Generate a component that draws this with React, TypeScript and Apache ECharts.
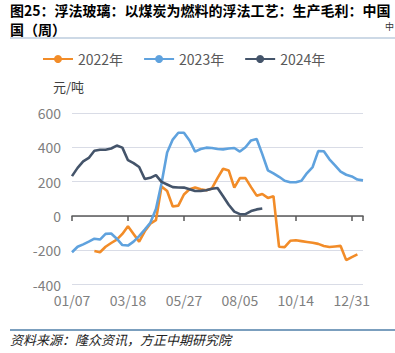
import React, { useEffect, useRef } from "react";
import * as echarts from "echarts";

const categories = [
  "01/07","01/14","01/21","01/28","02/04","02/11","02/18","02/25","03/04","03/11",
  "03/18","03/25","04/01","04/08","04/15","04/22","04/29","05/06","05/13","05/20",
  "05/27","06/03","06/10","06/17","06/24","07/01","07/08","07/15","07/22","07/29",
  "08/05","08/12","08/19","08/26","09/02","09/09","09/16","09/23","09/30","10/07",
  "10/14","10/21","10/28","11/04","11/11","11/18","11/25","12/02","12/09","12/16",
  "12/31","01/07","01/14",
];

const s2022 = [
  null, null, null, null, -205, -212, -180, -158, -138, -105,
  -60, -105, -150, -90, -45, -25, 172, 145, 55, 60,
  125, 155, 165, 155, 150, 160, 220, 275, 265, 165,
  220, 220, 168, 118, 128, 105, 115, -180, -182, -145,
  -142, -147, -152, -157, -163, -175, -181, -178, -175, -258,
  -240, -224, null,
];

const s2023 = [
  -212, -180, -166, -150, -133, -138, -105, -103, -133, -170,
  -173, -150, -118, -80, -40, 40, 190, 370, 445, 485,
  485, 440, 375, 390, 398, 396, 390, 388, 393, 396,
  375, 400, 440, 448, 360, 266, 248, 228, 205, 196,
  196, 205, 250, 285, 378, 377, 330, 295, 258, 240,
  230, 212, 207,
];

const s2024 = [
  232, 280, 318, 338, 380, 386, 386, 393, 410, 398,
  325, 308, 285, 215, 222, 238, 198, 183, 168, 166,
  165, 155, 145, 146, 150, 158, 163, 115, 65, 25,
  10, 10, 28, 38, 43,
];

const seriesNames = ["2022年", "2023年", "2024年"];
const seriesColors = ["#F28C28", "#5FA2DE", "#44546A"];

export default function App() {
  const ref = useRef<HTMLDivElement>(null);
  useEffect(() => {
    if (!ref.current) return;
    const chart = echarts.init(ref.current, null, { renderer: "svg" });
    const font = "'Noto Sans CJK SC', 'Noto Sans', sans-serif";
    const datas = [s2022, s2023, s2024];
    chart.setOption({
      animation: false,
      textStyle: { fontFamily: font },
      grid: { left: 72, right: 32, top: 113, bottom: 68.5, containLabel: false },
      legend: {
        left: 37,
        top: 47,
        itemWidth: 30,
        itemHeight: 10,
        itemGap: 20,
        textStyle: { fontSize: 14, color: "#595959", fontFamily: font },
        data: seriesNames,
      },
      xAxis: {
        type: "category",
        boundaryGap: false,
        data: categories,
        axisLine: { show: true, lineStyle: { color: "#595959", width: 1.5 } },
        axisTick: {
          show: true,
          length: 5,
          interval: (i: number) => i % 10 === 0 || i === categories.length - 1,
          lineStyle: { color: "#595959", width: 1.5 },
        },
        axisLabel: {
          interval: (i: number) => i % 10 === 0 && i <= 50,
          fontSize: 14,
          color: "#7F7F7F",
          margin: 8,
          fontFamily: font,
        },
        splitLine: { show: false },
      },
      yAxis: {
        type: "value",
        min: -400,
        max: 600,
        interval: 200,
        axisLine: { show: false },
        axisTick: { show: false },
        axisLabel: { fontSize: 14, color: "#7F7F7F", margin: 11, fontFamily: font },
        splitLine: { lineStyle: { color: "#D9DCE6", width: 1.2 } },
      },
      series: seriesNames.map((name, k) => ({
        name,
        type: "line",
        data: datas[k],
        symbol: "circle",
        symbolSize: 11,
        showSymbol: false,
        connectNulls: false,
        color: seriesColors[k],
        lineStyle: { width: 2.6, color: seriesColors[k] },
        itemStyle: { color: seriesColors[k] },
      })),
      graphic: [
        {
          type: "text",
          left: 10,
          top: 2,
          style: {
            text: "图25：浮法玻璃：以煤炭为燃料的浮法工艺：生产毛利：中国",
            fontSize: 14,
            lineHeight: 16,
            fontWeight: "bold",
            fill: "#000",
            fontFamily: font,
          },
        },
        {
          type: "text",
          left: 10,
          top: 21,
          style: {
            text: "国（周）",
            fontSize: 14,
            lineHeight: 16,
            fontWeight: "bold",
            fill: "#000",
            fontFamily: font,
          },
        },
        {
          type: "text",
          x: 385,
          y: 22,
          style: { text: "中", fontSize: 9, fill: "#333", fontFamily: font },
        },
        {
          type: "line",
          shape: { x1: 10, y1: 38, x2: 395, y2: 38 },
          style: { stroke: "#9BB3CE", lineWidth: 1.2 },
        },
        {
          type: "text",
          x: 53,
          y: 80,
          style: { text: "元/吨", fontSize: 13, fill: "#404040", fontFamily: font },
        },
        {
          type: "line",
          shape: { x1: 10, y1: 330, x2: 395, y2: 330 },
          style: { stroke: "#4F7FA8", lineWidth: 1.5 },
        },
        {
          type: "text",
          x: 10,
          y: 333,
          style: {
            text: "资料来源：隆众资讯，方正中期研究院",
            fontSize: 13,
            fontStyle: "italic",
            fill: "#222",
            fontFamily: font,
          },
        },
      ],
    });
    return () => chart.dispose();
  }, []);
  return <div ref={ref} style={{ width: 395, height: 353, position: "absolute", left: 0, top: 0 }} />;
}
